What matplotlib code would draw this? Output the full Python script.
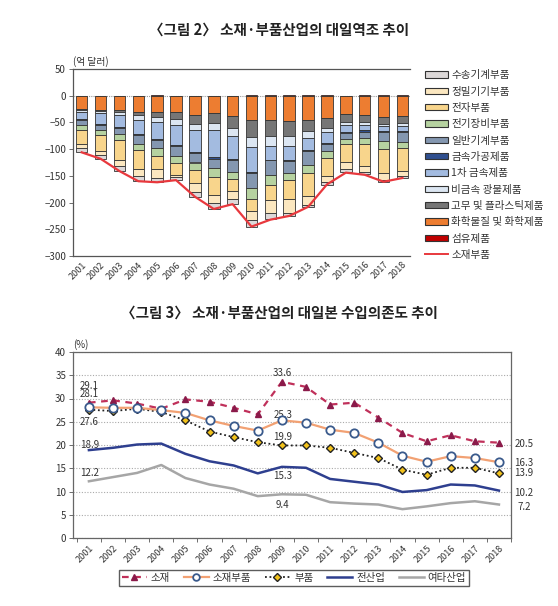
import matplotlib
matplotlib.use('Agg')
import matplotlib.pyplot as plt
from matplotlib.patches import Patch
from matplotlib.lines import Line2D
import numpy as np

plt.rcParams['font.family'] = ['Noto Sans CJK KR', 'DejaVu Sans']

years = [str(y) for y in range(2001, 2019)]

# 그림 2: 대일 무역수지 (억 달러), 0에서 아래로 쌓는 순서
textile = [0, 0, 0, 0, 1, 0, 0, 0, 0, 1, 1, 1, 1, 1, 0, 1, 1, 1]
chemical = [-24, -26, -27, -30, -31, -31, -36, -33, -38, -45, -45, -47, -45, -42, -34, -36, -39, -38]
rubber = [-3, -3, -3, -6, -8, -13, -17, -19, -23, -33, -30, -29, -21, -19, -16, -14, -14, -14]
nonmetal = [-3, -4, -6, -9, -11, -11, -12, -12, -14, -18, -20, -19, -14, -7, -5, -4, -4, -5]
primary_metal = [-14, -20, -22, -26, -31, -37, -41, -51, -44, -46, -25, -25, -22, -20, -12, -11, -9, -9]
fab_metal = [-1, -1, -3, -2, -2, -3, -2, -3, -2, -3, -1, -2, -2, -2, -2, -2, -2, -2]
machinery = [-10, -11, -11, -17, -14, -17, -17, -17, -21, -28, -27, -22, -25, -14, -12, -12, -17, -19]
electrical = [-9, -9, -11, -11, -16, -14, -14, -17, -14, -21, -19, -14, -16, -12, -9, -11, -14, -11]
electronic = [-27, -29, -37, -36, -25, -22, -24, -33, -22, -21, -28, -36, -42, -34, -34, -41, -46, -42]
precision = [-7, -8, -11, -14, -16, -5, -17, -16, -16, -17, -24, -25, -17, -12, -14, -12, -12, -11]
transport = [-7, -7, -9, -8, -7, -5, -9, -11, -9, -13, -12, -6, -5, -5, -5, -4, -4, -3]
total = [-106, -118, -141, -160, -162, -158, -189, -212, -203, -245, -232, -225, -208, -166, -144, -148, -161, -154]

# 그림 3: 대일본 수입의존도 (%)
materials = [29.1, 29.6, 28.9, 27.8, 29.8, 29.3, 28.0, 26.6, 33.6, 32.5, 28.7, 29.1, 25.9, 22.6, 20.8, 22.1, 20.8, 20.5]
mat_parts = [28.1, 28.0, 28.0, 27.5, 26.9, 25.3, 24.1, 23.1, 25.3, 24.8, 23.3, 22.6, 20.5, 17.7, 16.4, 17.6, 17.2, 16.3]
parts = [27.6, 27.3, 27.8, 27.1, 25.3, 22.9, 21.7, 20.6, 19.9, 19.9, 19.4, 18.3, 17.2, 14.7, 13.6, 15.1, 15.1, 13.9]
all_ind = [18.9, 19.4, 20.1, 20.3, 18.1, 16.5, 15.6, 13.9, 15.3, 15.1, 12.7, 12.1, 11.5, 9.9, 10.3, 11.5, 11.3, 10.2]
other_ind = [12.2, 13.1, 14.0, 15.7, 12.9, 11.5, 10.6, 9.0, 9.4, 9.3, 7.7, 7.4, 7.2, 6.2, 6.8, 7.5, 7.9, 7.2]

W, H = 558, 606
fig = plt.figure(figsize=(W / 100, H / 100), dpi=100)
fig.patch.set_facecolor('white')

def box(l, t, r, b):
    return [l / W, 1 - b / H, (r - l) / W, (b - t) / H]

# ---------- 그림 2 ----------
fig.text(0.5, 1 - 30 / H, '〈그림 2〉 소재·부품산업의 대일역조 추이', ha='center', va='center',
         fontsize=10.5, fontweight='semibold', color='#222222')

ax1 = fig.add_axes(box(73, 69, 410, 256))
x = np.arange(len(years))
stack = [
    ('섬유제품', textile, '#c00000'),
    ('화학물질 및 화학제품', chemical, '#ed7d31'),
    ('고무 및 플라스틱제품', rubber, '#767676'),
    ('비금속 광물제품', nonmetal, '#dce6f2'),
    ('1차 금속제품', primary_metal, '#a3bbe0'),
    ('금속가공제품', fab_metal, '#2f4f8f'),
    ('일반기계부품', machinery, '#8497b0'),
    ('전기장비부품', electrical, '#b6d2a0'),
    ('전자부품', electronic, '#f8d58c'),
    ('정밀기기부품', precision, '#fbe7c0'),
    ('수송기계부품', transport, '#dcd8d8'),
]
neg_base = np.zeros(len(years))
pos_base = np.zeros(len(years))
handles = {}
for name, vals, col in stack:
    v = np.array(vals, dtype=float)
    base = np.where(v >= 0, pos_base, neg_base)
    ax1.bar(x, v, 0.61, bottom=base, color=col, edgecolor='#333333', linewidth=0.6, zorder=3)
    pos_base = pos_base + np.where(v >= 0, v, 0)
    neg_base = neg_base + np.where(v < 0, v, 0)
    handles[name] = Patch(facecolor=col, edgecolor='#333333', linewidth=0.8)

ax1.plot(x, total, color='#e8383d', lw=1.6, zorder=4)
ax1.axhline(0, color='#999999', lw=0.8, ls=(0, (1, 1)), zorder=2)

ax1.set_xlim(-0.46, 17.4)
ax1.set_ylim(-300, 50)
ax1.set_yticks(range(-300, 51, 50))
ax1.set_xticks(x)
ax1.set_xticklabels(years, rotation=45, ha='right', rotation_mode='anchor')
ax1.tick_params(axis='y', labelsize=7, length=3, width=0.6, color='#555555', pad=2, labelcolor='#333333')
ax1.tick_params(axis='x', labelsize=6.5, length=0, pad=3, labelcolor='#333333')
ax1.spines['right'].set_visible(False)
for s in ['left', 'bottom', 'top']:
    ax1.spines[s].set_color('#555555')
    ax1.spines[s].set_linewidth(0.9)
ax1.text(0.0, 1.012, '(억 달러)', transform=ax1.transAxes, fontsize=7, color='#333333',
         ha='left', va='bottom')

order = ['수송기계부품', '정밀기기부품', '전자부품', '전기장비부품', '일반기계부품', '금속가공제품',
         '1차 금속제품', '비금속 광물제품', '고무 및 플라스틱제품', '화학물질 및 화학제품', '섬유제품']
leg_h = [handles[n] for n in order] + [Line2D([0], [0], color='#e8383d', lw=1.4)]
leg_l = order + ['소재부품']
fig.legend(leg_h, leg_l, loc='upper left', bbox_to_anchor=(421 / W, 1 - 66 / H), frameon=False,
           fontsize=7.6, handlelength=2.2, handleheight=0.55, handletextpad=0.25,
           labelspacing=0.6, borderaxespad=0, labelcolor='#333333')

# ---------- 그림 3 ----------
fig.text(0.5, 1 - 313 / H, '〈그림 3〉 소재·부품산업의 대일본 수입의존도 추이', ha='center', va='center',
         fontsize=10.5, fontweight='semibold', color='#222222')

ax2 = fig.add_axes(box(73, 352, 511, 538))
l1, = ax2.plot(x, materials, color='#c0305a', lw=1.6, ls=(0, (3, 2.5)), marker='^', ms=5,
               mfc='#8b1a4a', mec='#8b1a4a', zorder=5, label='소재')
l2, = ax2.plot(x, mat_parts, color='#f2a173', lw=1.6, marker='o', ms=6, mfc='white',
               mec='#3a5a8c', mew=1.3, zorder=6, label='소재부품')
l3, = ax2.plot(x, parts, color='#222222', lw=1.3, ls=(0, (1, 1.5)), marker='D', ms=4.5,
               mfc='#f2c21b', mec='#222222', mew=1.0, zorder=5, label='부품')
l4, = ax2.plot(x, all_ind, color='#2e3f8f', lw=1.8, zorder=4, label='전산업')
l5, = ax2.plot(x, other_ind, color='#a6a6a6', lw=1.8, zorder=4, label='여타산업')

ax2.set_xlim(-0.66, 17.41)
ax2.set_ylim(0, 40)
ax2.set_yticks(range(0, 41, 5))
ax2.yaxis.grid(True, color='#aaaaaa', lw=0.8, ls=(0, (1, 1.5)))
ax2.set_axisbelow(True)
ax2.set_xticks(x)
ax2.set_xticklabels(years, rotation=45, ha='right', rotation_mode='anchor')
ax2.set_xticks(np.arange(-0.5, 17.6, 1), minor=True)
ax2.tick_params(axis='x', which='major', length=0, labelsize=6.5, pad=4, labelcolor='#333333')
ax2.tick_params(axis='x', which='minor', length=3, width=0.6, color='#555555')
ax2.tick_params(axis='y', labelsize=7, length=3, width=0.6, color='#555555', pad=2, labelcolor='#333333')
for s in ax2.spines.values():
    s.set_color('#666666')
    s.set_linewidth(0.9)
ax2.text(0.0, 1.012, '(%)', transform=ax2.transAxes, fontsize=7, color='#333333',
         ha='left', va='bottom')

lab = dict(fontsize=7, color='#333333', ha='center', va='center', textcoords='offset pixels')
ax2.annotate(f'{materials[0]:.1f}', (0, materials[0]), xytext=(0, 17), **lab)
ax2.annotate(f'{mat_parts[0]:.1f}', (0, mat_parts[0]), xytext=(0, 13), **lab)
ax2.annotate(f'{parts[0]:.1f}', (0, parts[0]), xytext=(0, -12), **lab)
ax2.annotate(f'{all_ind[0]:.1f}', (0, all_ind[0]), xytext=(1, 5), **lab)
ax2.annotate(f'{other_ind[0]:.1f}', (0, other_ind[0]), xytext=(1, 8), **lab)
ax2.annotate(f'{materials[8]:.1f}', (8, materials[8]), xytext=(0, 9), **lab)
ax2.annotate(f'{mat_parts[8]:.1f}', (8, mat_parts[8]), xytext=(1, 5), **lab)
ax2.annotate(f'{parts[8]:.1f}', (8, parts[8]), xytext=(1, 8), **lab)
ax2.annotate(f'{all_ind[8]:.1f}', (8, all_ind[8]), xytext=(1, -9), **lab)
ax2.annotate(f'{other_ind[8]:.1f}', (8, other_ind[8]), xytext=(1, -11), **lab)
for vals, dy in [(materials, -1), (mat_parts, -1), (parts, 0), (all_ind, -2), (other_ind, -2)]:
    ax2.annotate(f'{vals[-1]:.1f}', (17, vals[-1]), xytext=(25, dy), **lab)

fig.legend([l1, l2, l3, l4, l5], ['소재', '소재부품', '부품', '전산업', '여타산업'],
           loc='center', bbox_to_anchor=(294 / W, 1 - 578 / H), ncol=5, fontsize=7.5,
           frameon=True, fancybox=False, edgecolor='#333333', handlelength=2.4,
           handletextpad=0.4, columnspacing=1.3, borderpad=0.3, markerscale=0.8,
           labelcolor='#333333')

fig.savefig('out.png', dpi=100, facecolor='white')
